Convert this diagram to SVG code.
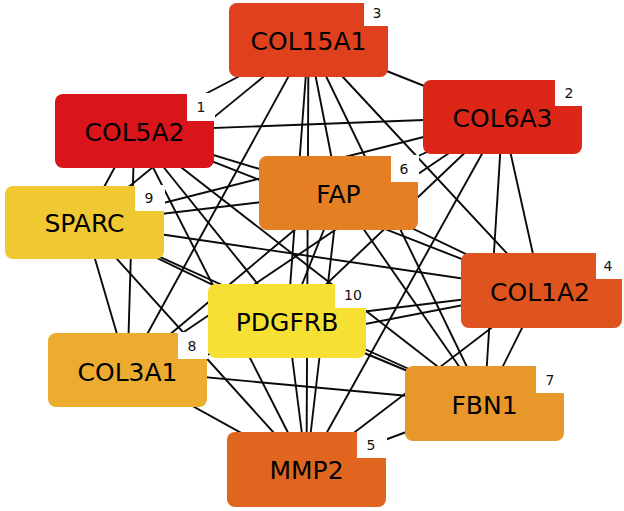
<svg xmlns="http://www.w3.org/2000/svg" width="624" height="511" viewBox="0 0 624 511">
<style>
.e{stroke:#0a0a0a;stroke-width:1.9;fill:none}
.n{stroke:none}
.notch{fill:#fff;stroke:none}
.lbl{font-family:"DejaVu Sans",sans-serif;font-size:25px;fill:#000;text-anchor:middle}
.num{font-family:"DejaVu Sans",sans-serif;font-size:14px;fill:#111;text-anchor:middle}
</style>
<rect width="624" height="511" fill="#fff"/>
<g id="edges" class="e">
<line x1="134.5" y1="131" x2="502.5" y2="117"/>
<line x1="134.5" y1="131" x2="308.5" y2="40"/>
<line x1="134.5" y1="131" x2="541" y2="290"/>
<line x1="134.5" y1="131" x2="306.5" y2="469"/>
<line x1="134.5" y1="131" x2="338.5" y2="193"/>
<line x1="134.5" y1="131" x2="484.5" y2="403"/>
<line x1="134.5" y1="131" x2="127.5" y2="370"/>
<line x1="134.5" y1="131" x2="84.5" y2="223"/>
<line x1="134.5" y1="131" x2="287.5" y2="321"/>
<line x1="502.5" y1="117" x2="308.5" y2="40"/>
<line x1="502.5" y1="117" x2="541" y2="290"/>
<line x1="502.5" y1="117" x2="306.5" y2="469"/>
<line x1="502.5" y1="117" x2="338.5" y2="193"/>
<line x1="502.5" y1="117" x2="484.5" y2="403"/>
<line x1="502.5" y1="117" x2="127.5" y2="370"/>
<line x1="502.5" y1="117" x2="84.5" y2="223"/>
<line x1="502.5" y1="117" x2="287.5" y2="321"/>
<line x1="308.5" y1="40" x2="541" y2="290"/>
<line x1="308.5" y1="40" x2="306.5" y2="469"/>
<line x1="308.5" y1="40" x2="338.5" y2="193"/>
<line x1="308.5" y1="40" x2="484.5" y2="403"/>
<line x1="308.5" y1="40" x2="127.5" y2="370"/>
<line x1="308.5" y1="40" x2="84.5" y2="223"/>
<line x1="308.5" y1="40" x2="287.5" y2="321"/>
<line x1="541" y1="290" x2="306.5" y2="469"/>
<line x1="541" y1="290" x2="338.5" y2="193"/>
<line x1="541" y1="290" x2="484.5" y2="403"/>
<line x1="541" y1="290" x2="127.5" y2="370"/>
<line x1="541" y1="290" x2="84.5" y2="223"/>
<line x1="541" y1="290" x2="287.5" y2="321"/>
<line x1="306.5" y1="469" x2="338.5" y2="193"/>
<line x1="306.5" y1="469" x2="484.5" y2="403"/>
<line x1="306.5" y1="469" x2="127.5" y2="370"/>
<line x1="306.5" y1="469" x2="84.5" y2="223"/>
<line x1="306.5" y1="469" x2="287.5" y2="321"/>
<line x1="338.5" y1="193" x2="484.5" y2="403"/>
<line x1="338.5" y1="193" x2="127.5" y2="370"/>
<line x1="338.5" y1="193" x2="84.5" y2="223"/>
<line x1="338.5" y1="193" x2="287.5" y2="321"/>
<line x1="484.5" y1="403" x2="127.5" y2="370"/>
<line x1="484.5" y1="403" x2="84.5" y2="223"/>
<line x1="484.5" y1="403" x2="287.5" y2="321"/>
<line x1="127.5" y1="370" x2="84.5" y2="223"/>
<line x1="127.5" y1="370" x2="287.5" y2="321"/>
<line x1="84.5" y1="223" x2="287.5" y2="321"/>
</g>
<g id="node-COL15A1">
<rect class="n" x="229" y="3" width="159" height="74" rx="8" fill="#DF401E"/>
<rect class="notch" x="364" y="0" width="25" height="26"/>
<text class="lbl" x="308.5" y="50">COL15A1</text>
<text class="num" x="377" y="18">3</text>
</g>
<g id="node-COL5A2">
<rect class="n" x="55" y="94" width="159" height="74" rx="8" fill="#D9141A"/>
<rect class="notch" x="187" y="93" width="28" height="28"/>
<text class="lbl" x="134.5" y="141">COL5A2</text>
<text class="num" x="201" y="112">1</text>
</g>
<g id="node-COL6A3">
<rect class="n" x="423" y="80" width="159" height="74" rx="8" fill="#DC2618"/>
<rect class="notch" x="555" y="79" width="28" height="27"/>
<text class="lbl" x="502.5" y="127">COL6A3</text>
<text class="num" x="569" y="98">2</text>
</g>
<g id="node-FAP">
<rect class="n" x="259" y="156" width="159" height="74" rx="8" fill="#E47F24"/>
<rect class="notch" x="391" y="155" width="28" height="27"/>
<text class="lbl" x="338.5" y="203">FAP</text>
<text class="num" x="404" y="174">6</text>
</g>
<g id="node-SPARC">
<rect class="n" x="5" y="186" width="159" height="73" rx="8" fill="#F0C832"/>
<rect class="notch" x="135" y="185" width="30" height="26"/>
<text class="lbl" x="84.5" y="232">SPARC</text>
<text class="num" x="149" y="203">9</text>
</g>
<g id="node-COL1A2">
<rect class="n" x="461" y="253" width="161" height="75" rx="8" fill="#DF541E"/>
<rect class="notch" x="596" y="252" width="28" height="27"/>
<text class="lbl" x="540" y="301">COL1A2</text>
<text class="num" x="608" y="271">4</text>
</g>
<g id="node-PDGFRB">
<rect class="n" x="208" y="284" width="158" height="74" rx="8" fill="#F6E033"/>
<rect class="notch" x="335" y="283" width="32" height="25"/>
<text class="lbl" x="287" y="331">PDGFRB</text>
<text class="num" x="353" y="300">10</text>
</g>
<g id="node-COL3A1">
<rect class="n" x="48" y="333" width="159" height="74" rx="8" fill="#EBAC2F"/>
<rect class="notch" x="178" y="332" width="30" height="27"/>
<text class="lbl" x="127.5" y="381">COL3A1</text>
<text class="num" x="192" y="351">8</text>
</g>
<g id="node-FBN1">
<rect class="n" x="405" y="366" width="159" height="75" rx="8" fill="#E8982B"/>
<rect class="notch" x="536" y="365" width="29" height="28"/>
<text class="lbl" x="484.5" y="414">FBN1</text>
<text class="num" x="550" y="385">7</text>
</g>
<g id="node-MMP2">
<rect class="n" x="227" y="432" width="159" height="75" rx="8" fill="#E0661F"/>
<rect class="notch" x="357" y="431" width="30" height="27"/>
<text class="lbl" x="306.5" y="479">MMP2</text>
<text class="num" x="371" y="450">5</text>
</g>
</svg>
